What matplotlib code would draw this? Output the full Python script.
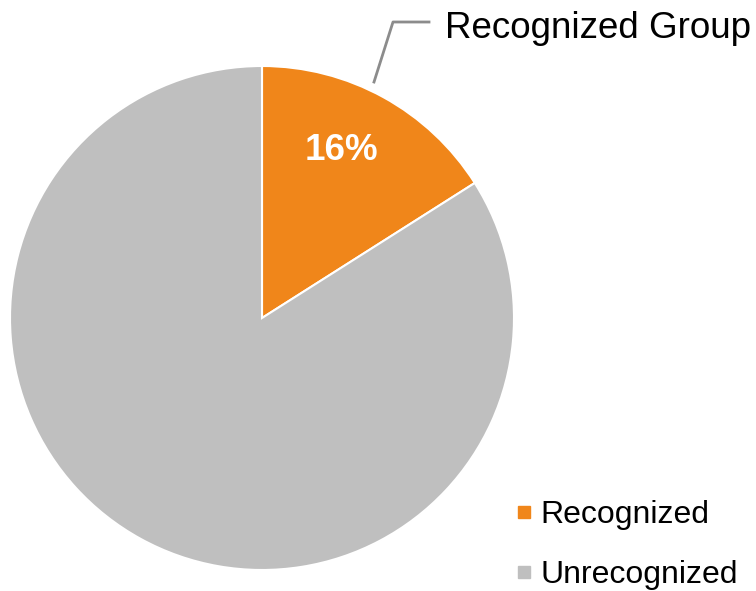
import matplotlib.pyplot as plt
from matplotlib.lines import Line2D

plt.rcParams['font.family'] = ['Liberation Sans', 'DejaVu Sans']

categories = ['Recognized', 'Unrecognized']
shares = [16, 84]
colors = ['#F0861A', '#BFBFBF']
callout = 'Recognized Group'


def main():
    fig = plt.figure(figsize=(7.56, 5.91), dpi=100)
    ax = fig.add_axes([0, 0, 1, 1])

    wedges, _ = ax.pie(shares, colors=colors, startangle=90, counterclock=False,
                       center=(262, 273), radius=252, frame=True,
                       wedgeprops=dict(edgecolor='white', linewidth=1.5))
    ax.set_xlim(0, 756)
    ax.set_ylim(0, 591)
    ax.axis('off')

    ax.text(341, 440, '%d%%' % shares[0], color='white', fontsize=26.5,
            fontweight='bold', ha='center', va='center')

    # leader line to the callout label
    ax.plot([374, 393, 429], [509, 569, 569], color='#8C8C8C', linewidth=2)
    ax.text(445, 563, callout, fontsize=26.5, ha='left', va='center')

    handles = [Line2D([], [], marker='s', linestyle='none', markersize=9,
                      markerfacecolor=c, markeredgecolor=c) for c in colors]
    ax.legend(handles, categories, loc='center left',
              bbox_to_anchor=(514 / 756, 46 / 591),
              frameon=False, fontsize=23, handlelength=0.6, handletextpad=0.22,
              labelspacing=0.94, borderaxespad=0, borderpad=0)

    fig.savefig('out.png', dpi=100)


if __name__ == "__main__":
    main()
